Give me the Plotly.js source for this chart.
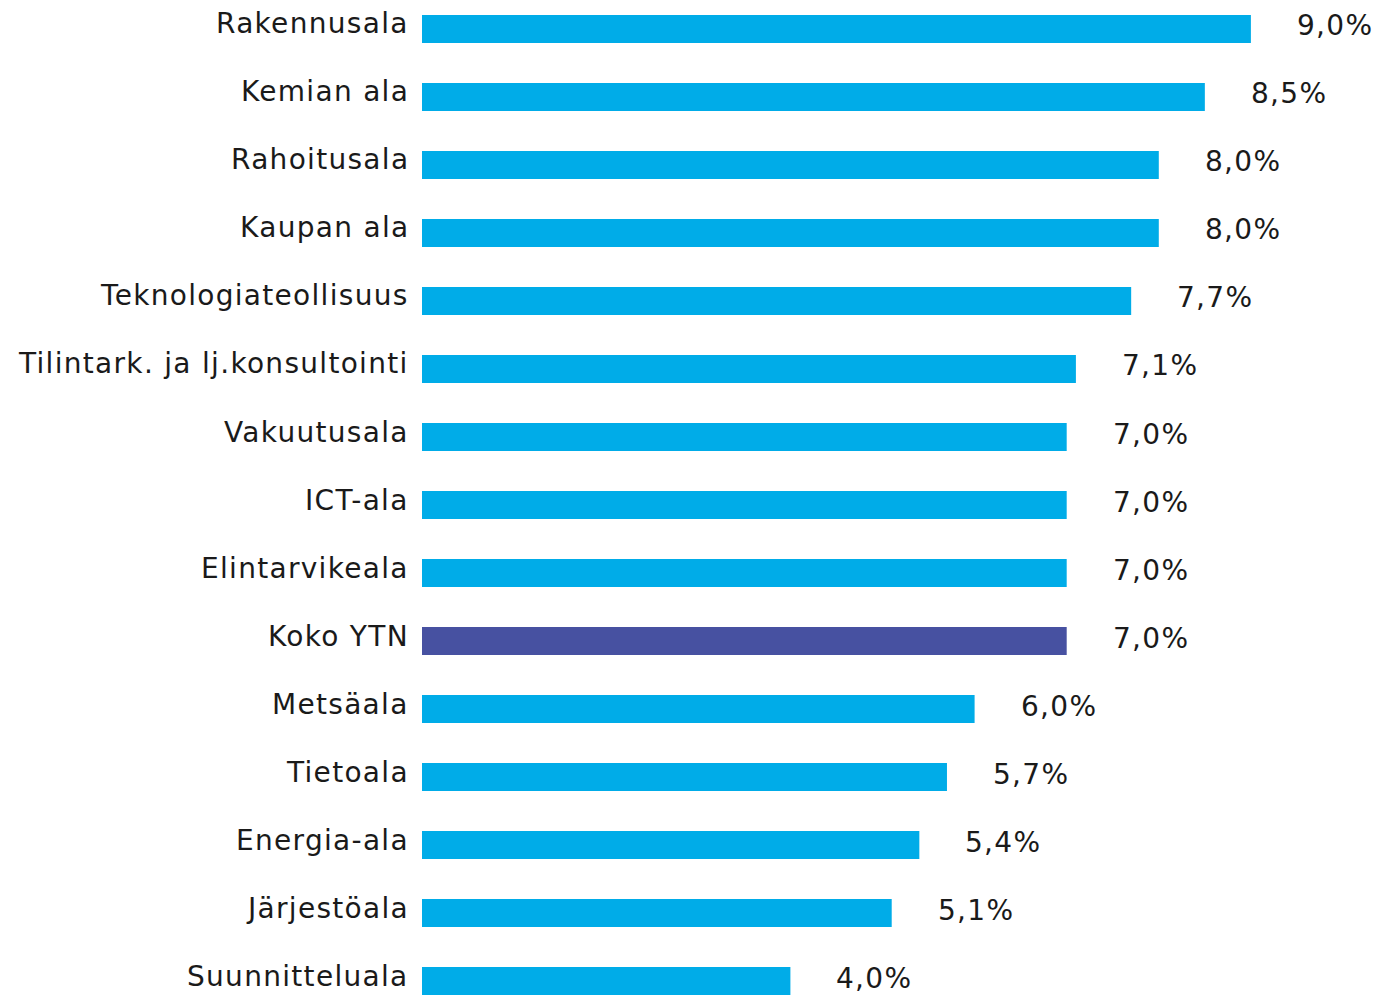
<!DOCTYPE html>
<html><head><meta charset="utf-8">
<script src="https://cdn.plot.ly/plotly-3.0.1.min.js"></script>
<style>html,body{margin:0;padding:0;background:#fff}#chart{width:1384px;height:996px}text{letter-spacing:1.3px}</style>
</head><body><div id="chart"></div>
<script>
const categories = ["Rakennusala","Kemian ala","Rahoitusala","Kaupan ala","Teknologiateollisuus","Tilintark. ja lj.konsultointi","Vakuutusala","ICT-ala","Elintarvikeala","Koko YTN","Metsäala","Tietoala","Energia-ala","Järjestöala","Suunnitteluala"];
const values = [9.0,8.5,8.0,8.0,7.7,7.1,7.0,7.0,7.0,7.0,6.0,5.7,5.4,5.1,4.0];
const labels = ["9,0%","8,5%","8,0%","8,0%","7,7%","7,1%","7,0%","7,0%","7,0%","7,0%","6,0%","5,7%","5,4%","5,1%","4,0%"];
const highlight = "Koko YTN";
const FONT = "DejaVu Sans";
const colors = categories.map(c => c === highlight ? "#4751A1" : "#00ACE8");
const trace = {type:"bar", orientation:"h", x:values, y:categories, marker:{color:colors}, hoverinfo:"none"};
const valueNotes = categories.map((c,i)=>({x:values[i], y:c, xref:"x", yref:"y", text:labels[i], showarrow:false, xanchor:"left", xshift:44, yshift:3, font:{family:FONT, size:28, color:"#1a1a1a"}}));
const catNotes = categories.map((c,i)=>({x:0, y:c, xref:"paper", yref:"y", text:c, showarrow:false, xanchor:"right", xshift:-11, yshift:5, font:{family:FONT, size:28, color:"#1a1a1a"}}));
const layout = {
  width:1384, height:996, margin:{l:422, r:41, t:0, b:0},
  paper_bgcolor:"#fff", plot_bgcolor:"#fff", showlegend:false, bargap:0.59,
  xaxis:{range:[0,10], visible:false, fixedrange:true},
  yaxis:{type:"category", range:[14.22,-0.426], showgrid:false, zeroline:false, showline:false, ticks:"", showticklabels:false},
  annotations:valueNotes.concat(catNotes)
};
Plotly.newPlot("chart",[trace],layout,{displayModeBar:false,staticPlot:true});
</script></body></html>
